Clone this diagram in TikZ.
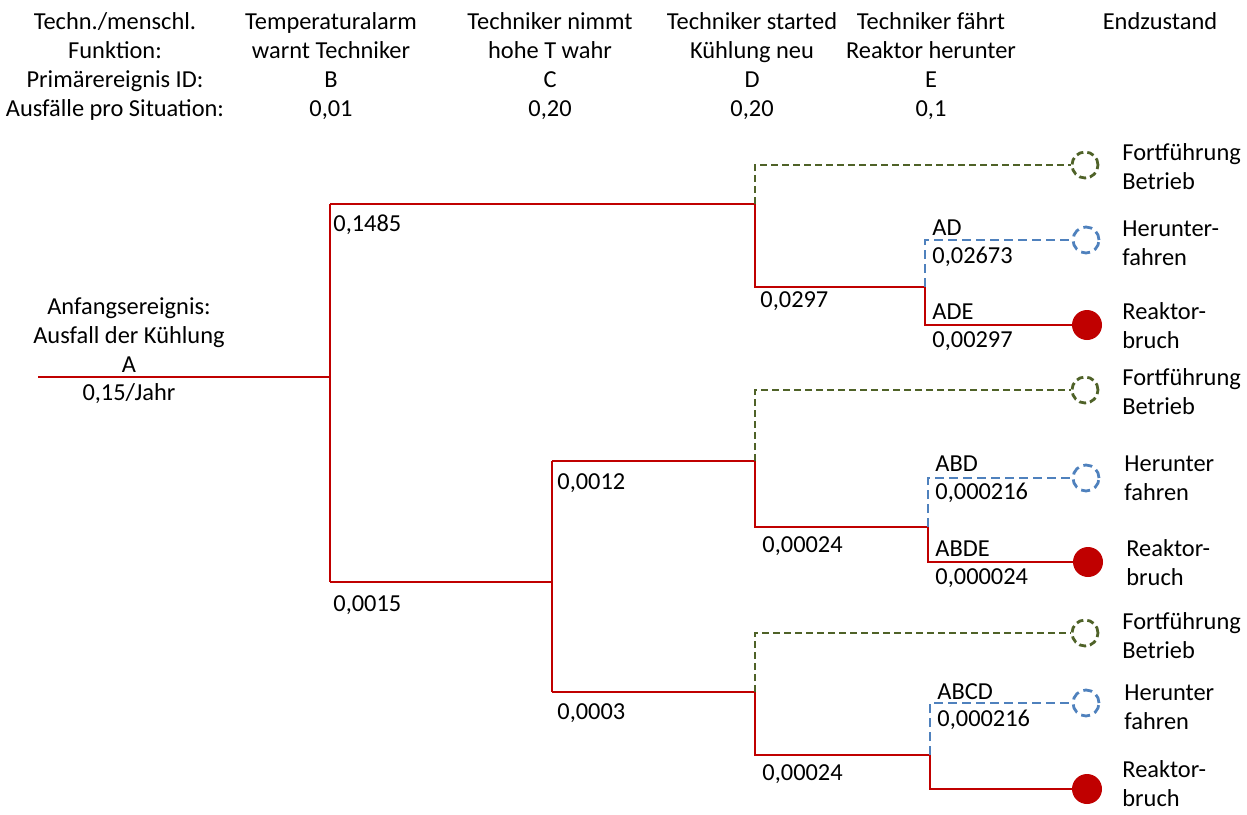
\documentclass[tikz,border=0pt]{standalone}
\usepackage{fontspec}
\setmainfont{Carlito}
\definecolor{tred}{HTML}{C00000}
\definecolor{tgreen}{HTML}{4F6228}
\definecolor{tblue}{HTML}{4F81BD}
\tikzset{
  txt/.style={font=\fontsize{12.2}{14.5}\selectfont, inner sep=0pt, align=center},
  lbl/.style={font=\fontsize{12.2}{14.5}\selectfont, inner sep=0pt, anchor=base west},
  redline/.style={draw=tred, line width=1.4pt},
  greenline/.style={draw=tgreen, line width=1.4pt, dash pattern=on 3.5pt off 2pt},
  blueline/.style={draw=tblue, line width=1.4pt, dash pattern=on 4.5pt off 2.5pt},
  gcirc/.style={circle, minimum size=13pt, inner sep=0pt, draw=tgreen, line width=1.4pt, dash pattern=on 3.5pt off 2pt},
  bcirc/.style={circle, minimum size=13pt, inner sep=0pt, draw=tblue, line width=1.4pt, dash pattern=on 4.5pt off 2.5pt},
  rcirc/.style={circle, minimum size=15pt, inner sep=0pt, fill=tred},
}
\begin{document}
\begin{tikzpicture}[x=0.5pt, y=-0.5pt]
\useasboundingbox (0,0) rectangle (1247,814);
% header
\node[txt, anchor=base] (h0) at (115,116) {Techn./menschl.\\Funktion:\\Primärereignis ID:\\Ausfälle pro Situation:};
\node[txt, anchor=base] (h1) at (331,116) {Temperaturalarm\\warnt Techniker\\B\\0,01};
\node[txt, anchor=base] (h2) at (550,116) {Techniker nimmt\\hohe T wahr\\C\\0,20};
\node[txt, anchor=base] (h3) at (752,116) {Techniker started\\Kühlung neu\\D\\0,20};
\node[txt, anchor=base] (h4) at (931,116) {Techniker fährt\\Reaktor herunter\\E\\0,1};
\node[txt, anchor=base] (h5) at (1160,29) {Endzustand};
% initiating event
\node[txt, anchor=base] (ini) at (129,372) {Anfangsereignis:\\Ausfall der Kühlung\\A};
\node[txt, anchor=base] (inif) at (129,400) {0,15/Jahr};
% coordinates
\coordinate (a0) at (38,377);
\coordinate (a1) at (330,377);
\coordinate (t1) at (330,204);
\coordinate (b1) at (330,582);
\coordinate (d1) at (755,204);
\coordinate (e1) at (925,287);
\coordinate (c2) at (552,582);
\coordinate (c2t) at (552,461);
\coordinate (c2b) at (552,692);
\coordinate (d2) at (755,461);
\coordinate (e2) at (928,527);
\coordinate (d3) at (755,692);
\coordinate (e3) at (930,755);
% end circles
\node[gcirc] (g1) at (1085,165) {};
\node[bcirc] (bl1) at (1086,240) {};
\node[rcirc] (r1) at (1087,325) {};
\node[gcirc] (g2) at (1085,390) {};
\node[bcirc] (bl2) at (1086,478) {};
\node[rcirc] (r2) at (1088,562) {};
\node[gcirc] (g3) at (1085,633) {};
\node[bcirc] (bl3) at (1086,703) {};
\node[rcirc] (r3) at (1087,789) {};
% red tree
\draw[redline] (a0) -- (a1);
\draw[redline] (t1) -- (b1);
\draw[redline] (t1) -- (d1);
\draw[redline] (d1) |- (e1);
\draw[redline] (e1) |- (r1.west);
\draw[redline] (b1) -- (c2);
\draw[redline] (c2t) -- (c2b);
\draw[redline] (c2t) -- (d2);
\draw[redline] (d2) |- (e2);
\draw[redline] (e2) |- (r2.west);
\draw[redline] (c2b) -- (d3);
\draw[redline] (d3) |- (e3);
\draw[redline] (e3) |- (r3.west);
% dashed branches
\draw[greenline] (d1) |- (g1.west);
\draw[blueline] (e1) |- (bl1.west);
\draw[greenline] (d2) |- (g2.west);
\draw[blueline] (e2) |- (bl2.west);
\draw[greenline] (d3) |- (g3.west);
\draw[blueline] (e3) |- (bl3.west);
% branch labels
\node[lbl] (l1) at (333,231) {0,1485};
\node[lbl] (l2) at (333,611) {0,0015};
\node[lbl] (l3) at (760,307) {0,0297};
\node[lbl] (l4) at (932,235) {AD};
\node[lbl] (l5) at (932,263) {0,02673};
\node[lbl] (l6) at (932,319) {ADE};
\node[lbl] (l7) at (932,347) {0,00297};
\node[lbl] (l8) at (557,489) {0,0012};
\node[lbl] (l9) at (762,552) {0,00024};
\node[lbl] (l10) at (935,471) {ABD};
\node[lbl] (l11) at (935,499) {0,000216};
\node[lbl] (l12) at (935,556) {ABDE};
\node[lbl] (l13) at (935,584) {0,000024};
\node[lbl] (l14) at (557,719) {0,0003};
\node[lbl] (l15) at (762,780) {0,00024};
\node[lbl] (l16) at (937,699) {ABCD};
\node[lbl] (l17) at (937,726) {0,000216};
% end state labels
\node[lbl, align=left] (s1) at (1122,189) {Fortführung\\Betrieb};
\node[lbl, align=left] (s2) at (1122,265) {Herunter-\\fahren};
\node[lbl, align=left] (s3) at (1122,348) {Reaktor-\\bruch};
\node[lbl, align=left] (s4) at (1122,414) {Fortführung\\Betrieb};
\node[lbl, align=left] (s5) at (1124,500) {Herunter\\fahren};
\node[lbl, align=left] (s6) at (1126,585) {Reaktor-\\bruch};
\node[lbl, align=left] (s7) at (1122,658) {Fortführung\\Betrieb};
\node[lbl, align=left] (s8) at (1124,729) {Herunter\\fahren};
\node[lbl, align=left] (s9) at (1122,806) {Reaktor-\\bruch};
\end{tikzpicture}
\end{document}
